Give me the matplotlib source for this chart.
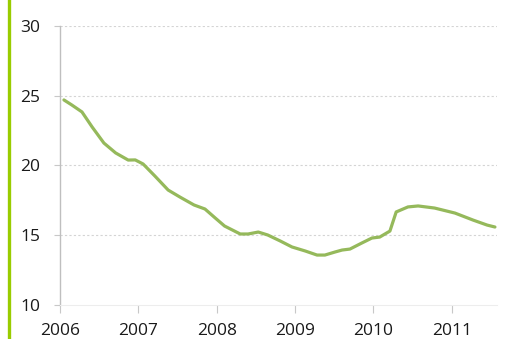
import numpy as np
import matplotlib
matplotlib.use('Agg')
import matplotlib.pyplot as plt
from matplotlib.lines import Line2D

# values (fractional year, value)
years = [2006.05, 2006.15, 2006.28, 2006.41, 2006.56, 2006.71, 2006.87, 2006.96,
         2007.06, 2007.21, 2007.38, 2007.53, 2007.71, 2007.85, 2007.98,
         2008.10, 2008.30, 2008.40, 2008.53, 2008.65, 2008.81, 2008.96,
         2009.13, 2009.28, 2009.38, 2009.51, 2009.60, 2009.70, 2009.85, 2009.98,
         2010.08, 2010.21, 2010.29, 2010.44, 2010.57, 2010.78,
         2011.04, 2011.27, 2011.45, 2011.55]
values = [24.70, 24.34, 23.84, 22.76, 21.61, 20.90, 20.39, 20.40,
          20.11, 19.25, 18.24, 17.74, 17.17, 16.88, 16.24,
          15.66, 15.09, 15.09, 15.23, 15.02, 14.59, 14.16,
          13.87, 13.58, 13.58, 13.80, 13.94, 14.01, 14.44, 14.80,
          14.87, 15.30, 16.67, 17.03, 17.10, 16.95,
          16.59, 16.09, 15.73, 15.59]
xticks = [2006, 2007, 2008, 2009, 2010, 2011]
yticks = [10, 15, 20, 25, 30]

plt.rcParams['font.family'] = ['Open Sans', 'DejaVu Sans']

fig = plt.figure(figsize=(5.06, 3.39), dpi=100)
ax = fig.add_axes([0.1186, 0.1003, 0.982 - 0.1186, 0.9233 - 0.1003])

ax.plot(years, values, color='#95b95b', linewidth=2.3,
        solid_capstyle='round', solid_joinstyle='round')

ax.set_xlim(2006, 2011.575)
ax.set_ylim(10, 30)
ax.set_xticks(xticks)
ax.set_xticklabels([str(y) for y in xticks])
ax.set_yticks(yticks)

for y in yticks[1:]:
    ax.axhline(y, color='#d4d4d4', linewidth=0.8, linestyle=(0, (2, 2)), zorder=0)

for s in ['top', 'right']:
    ax.spines[s].set_visible(False)
ax.spines['left'].set_color('#bfbfbf')
ax.spines['left'].set_linewidth(1.0)
ax.spines['bottom'].set_color('#ededed')
ax.spines['bottom'].set_linewidth(0.8)

ax.tick_params(axis='x', direction='out', length=6, width=0.8, color='#c8c8c8',
               labelsize=12.5, labelcolor='#1a1a1a', pad=7)
ax.tick_params(axis='y', direction='out', length=4, width=0.8, color='#c8c8c8',
               labelsize=12.5, labelcolor='#1a1a1a', pad=10)

# green bar at the left edge
fig.add_artist(Line2D([8.5 / 506, 8.5 / 506], [0, 1], color='#99cc00', linewidth=2.4,
                      transform=fig.transFigure))

fig.savefig('out.png', dpi=100)
